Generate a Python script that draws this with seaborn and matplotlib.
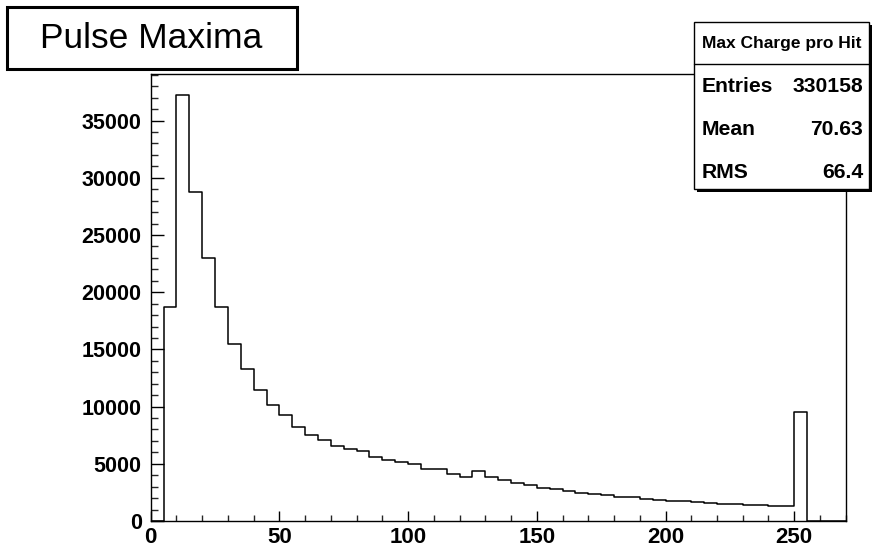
import numpy as np
import pandas as pd
import matplotlib
matplotlib.use("Agg")
import matplotlib.pyplot as plt
from matplotlib.patches import Rectangle
import seaborn as sns

# ---- data ----
bin_width = 5
bin_low = list(range(0, 270, 5))  # 0..265
counts = [0,
          18680, 37230, 28730, 22990, 18680, 15440, 13290, 11450, 10110, 9260,
          8190, 7540, 7080, 6580, 6270, 6120, 5620, 5290, 5160, 4960,
          4550, 4550, 4110, 3850, 4400, 3850, 3580, 3350, 3120, 2910,
          2770, 2600, 2470, 2360, 2250, 2120, 2070, 1900, 1810, 1750,
          1710, 1630, 1550, 1490, 1460, 1400, 1370, 1310, 1310, 9530,
          0, 0, 0]
x_ticks = [0, 50, 100, 150, 200, 250]
y_ticks = [0, 5000, 10000, 15000, 20000, 25000, 30000, 35000]
title = "Pulse Maxima"
stats_title = "Max Charge pro Hit"
stats_labels = ["Entries", "Mean", "RMS"]
stats_values = ["330158", "70.63", "66.4"]

df = pd.DataFrame({"x": np.array(bin_low) + bin_width / 2, "w": counts})
edges = list(bin_low) + [bin_low[-1] + bin_width]

sns.set_theme(style="white")
plt.rcParams["font.family"] = ["Liberation Sans", "DejaVu Sans"]

W, H = 872, 546
fig = plt.figure(figsize=(W / 100, H / 100), dpi=100)
fx = lambda px: px / W
fy = lambda py: 1 - py / H

left, right, top, bottom = 150.7, 845.7, 74, 521
ax = fig.add_axes([fx(left), fy(bottom), fx(right) - fx(left), fy(top) - fy(bottom)])

sns.histplot(data=df, x="x", weights="w", bins=edges, element="step", fill=False,
             color="black", linewidth=1.1, ax=ax)

ax.set_xlim(0, 270)
ax.set_ylim(0, 39070)
ax.set_xlabel("")
ax.set_ylabel("")
ax.set_xticks(x_ticks)
ax.set_yticks(y_ticks)
ax.set_xticks(np.arange(0, 271, 10), minor=True)
ax.set_yticks(np.arange(0, 39001, 1000), minor=True)
ax.tick_params(axis="x", which="major", direction="in", length=7.2, width=1.0,
               pad=4.0, labelsize=16, colors="black", bottom=True, top=False)
ax.tick_params(axis="x", which="minor", direction="in", length=4.0, width=1.0,
               bottom=True, top=False)
ax.tick_params(axis="y", which="major", direction="in", length=9.4, width=1.0,
               pad=6.5, labelsize=15.5, colors="black", left=True, right=False)
ax.tick_params(axis="y", which="minor", direction="in", length=4.7, width=1.0,
               left=True, right=False)
for lab in ax.get_xticklabels() + ax.get_yticklabels():
    lab.set_fontweight("bold")
for sp in ax.spines.values():
    sp.set_visible(True)
    sp.set_color("black")
    sp.set_linewidth(1.0)
ax.grid(False)

# ---- title box ----
fig.add_artist(Rectangle((fx(7), fy(69)), fx(297) - fx(7), fy(7) - fy(69),
                         transform=fig.transFigure, facecolor="white",
                         edgecolor="black", linewidth=2.2, zorder=10))
fig.text(fx(151), fy(38.5), title, ha="center", va="center", fontsize=25.5,
         color="black", zorder=11)

# ---- stats box ----
bx0, bx1, by0, by1 = 694, 869, 22, 189
fig.add_artist(Rectangle((fx(bx0 + 3), fy(by1 + 3)), fx(bx1) - fx(bx0), fy(by0) - fy(by1),
                         transform=fig.transFigure, facecolor="black",
                         edgecolor="black", linewidth=0, zorder=10))
fig.add_artist(Rectangle((fx(bx0), fy(by1)), fx(bx1) - fx(bx0), fy(by0) - fy(by1),
                         transform=fig.transFigure, facecolor="white",
                         edgecolor="black", linewidth=1.0, zorder=10))
fig.add_artist(plt.Line2D([fx(bx0), fx(bx1)], [fy(64), fy(64)], transform=fig.transFigure,
                          color="black", linewidth=1.0, zorder=11))
fig.text(fx((bx0 + bx1) / 2), fy(43.5), stats_title, ha="center", va="center",
         fontsize=12.5, fontweight="bold", color="black", zorder=12)
for i, (lab, val) in enumerate(zip(stats_labels, stats_values)):
    yy = [87, 129.5, 173][i]
    fig.text(fx(702), fy(yy), lab, ha="left", va="center", fontsize=15.2,
             fontweight="bold", color="black", zorder=12)
    fig.text(fx(863), fy(yy), val, ha="right", va="center", fontsize=15.2,
             fontweight="bold", color="black", zorder=12)

fig.savefig("out.png", dpi=100, facecolor="white")
